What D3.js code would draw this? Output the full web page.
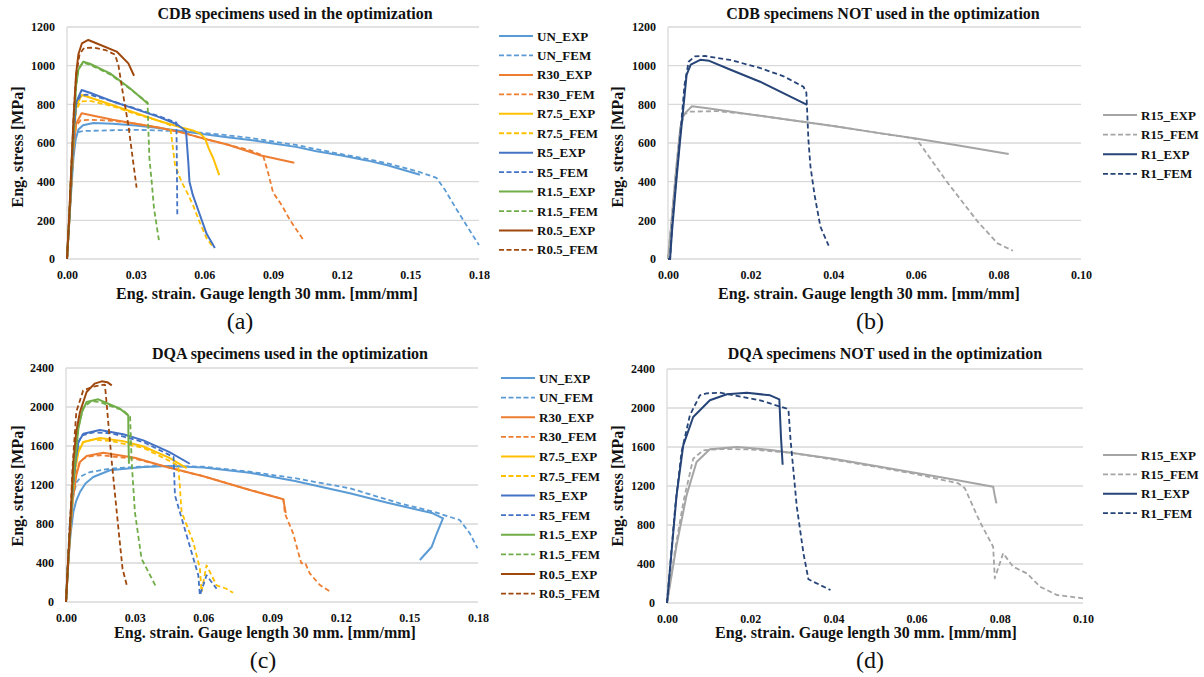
<!DOCTYPE html>
<html><head><meta charset="utf-8">
<script src="https://cdn.jsdelivr.net/npm/d3@7/dist/d3.min.js"></script>
<style>body{margin:0;background:#fff} svg{display:block}</style>
</head><body>
<svg id="chart" width="1204" height="677"></svg>
<script>
// ---------- DATA: [strain, stress] ----------
// (a) CDB used in optimization
const a_UN_EXP = [[0,0],[0.001,200],[0.002,380],[0.0028,520],[0.0038,620],[0.005,670],[0.007,692],[0.0115,703],[0.02,700],[0.03,690],[0.04,678],[0.05,662],[0.06,645],[0.07,630],[0.08,616],[0.09,598],[0.1,580],[0.109,557],[0.12,535],[0.131,510],[0.14,485],[0.1542,436]];
const a_UN_FEM = [[0,0],[0.001,200],[0.002,400],[0.0028,560],[0.0035,630],[0.0045,655],[0.007,662],[0.02,666],[0.03,668],[0.04,665],[0.05,660],[0.06,652],[0.07,640],[0.08,626],[0.09,608],[0.1,590],[0.109,568],[0.12,542],[0.131,518],[0.14,495],[0.154,450],[0.1614,420],[0.165,360],[0.1703,255],[0.175,165],[0.18,72]];
const a_R30_EXP = [[0,0],[0.001,200],[0.002,420],[0.003,600],[0.004,700],[0.0064,754],[0.01,745],[0.02,720],[0.03,700],[0.04,680],[0.05,655],[0.06,622],[0.07,592],[0.0843,537],[0.0993,498]];
const a_R30_FEM = [[0,0],[0.001,200],[0.002,420],[0.003,600],[0.004,690],[0.006,718],[0.01,720],[0.02,715],[0.03,700],[0.04,680],[0.05,655],[0.06,622],[0.07,592],[0.08,562],[0.0857,535],[0.088,440],[0.09,345],[0.094,275],[0.0975,200],[0.1033,98]];
const a_R7_5_EXP = [[0,0],[0.001,200],[0.002,420],[0.003,640],[0.004,790],[0.0064,848],[0.01,835],[0.02,795],[0.03,755],[0.04,715],[0.05,680],[0.055,665],[0.058,650],[0.0603,624],[0.062,570],[0.0639,521],[0.0665,434]];
const a_R7_5_FEM = [[0,0],[0.001,200],[0.002,420],[0.003,640],[0.004,770],[0.006,815],[0.01,818],[0.02,790],[0.03,750],[0.04,715],[0.045,693],[0.046,600],[0.0472,486],[0.05,400],[0.0523,348],[0.055,280],[0.058,190],[0.061,107],[0.064,60]];
const a_R5_EXP = [[0,0],[0.001,200],[0.002,430],[0.003,660],[0.004,810],[0.0064,874],[0.01,860],[0.02,815],[0.03,775],[0.04,735],[0.048,697],[0.052,662],[0.053,500],[0.0535,400],[0.055,330],[0.058,230],[0.061,130],[0.0646,57]];
const a_R5_FEM = [[0,0],[0.001,200],[0.002,440],[0.003,670],[0.004,800],[0.006,848],[0.01,850],[0.02,815],[0.03,778],[0.04,740],[0.0478,705],[0.048,500],[0.0482,219]];
const a_R1_5_EXP = [[0,0],[0.001,220],[0.002,480],[0.003,720],[0.004,900],[0.005,980],[0.0071,1021],[0.01,1010],[0.0188,960],[0.0275,883],[0.0355,802]];
const a_R1_5_FEM = [[0,0],[0.001,220],[0.002,480],[0.003,720],[0.004,900],[0.005,985],[0.007,1015],[0.01,1005],[0.0188,955],[0.0275,880],[0.0352,810],[0.0356,650],[0.036,520],[0.037,400],[0.038,263],[0.0403,86]];
const a_R0_5_EXP = [[0,0],[0.001,230],[0.002,500],[0.003,760],[0.004,960],[0.005,1060],[0.0065,1115],[0.0093,1133],[0.012,1120],[0.0217,1073],[0.0268,1012],[0.0293,948]];
const a_R0_5_FEM = [[0,0],[0.001,230],[0.002,500],[0.003,760],[0.004,950],[0.0055,1060],[0.0075,1092],[0.012,1093],[0.017,1080],[0.021,1057],[0.0225,1000],[0.0243,866],[0.0268,693],[0.0287,521],[0.0304,369]];

// (b) CDB NOT used
const b_R15_EXP = [[0,0],[0.001,230],[0.002,470],[0.003,680],[0.0037,745],[0.0058,790],[0.01,778],[0.02,748],[0.03,718],[0.04,688],[0.05,655],[0.06,623],[0.07,588],[0.0825,543]];
const b_R15_FEM = [[0,0],[0.001,230],[0.002,470],[0.003,680],[0.004,748],[0.005,762],[0.012,765],[0.02,748],[0.03,718],[0.04,688],[0.05,655],[0.06,622],[0.0612,590],[0.0675,400],[0.075,193],[0.0798,81],[0.0835,43]];
const b_R1_EXP = [[0,0],[0.0005,0],[0.001,150],[0.002,400],[0.0029,607],[0.0038,800],[0.0045,952],[0.0055,1005],[0.0078,1030],[0.01,1025],[0.015,980],[0.0223,917],[0.0337,797]];
const b_R1_FEM = [[0,0],[0.0005,0],[0.001,180],[0.002,420],[0.003,650],[0.004,900],[0.005,1020],[0.0065,1048],[0.009,1050],[0.015,1030],[0.022,990],[0.028,945],[0.0328,891],[0.0335,860],[0.034,615],[0.0345,477],[0.0355,330],[0.0369,167],[0.0389,69]];

// (c) DQA used in optimization
const c_UN_EXP = [[0,0],[0.001,410],[0.002,700],[0.0032,923],[0.0045,1040],[0.0061,1128],[0.0085,1215],[0.0119,1282],[0.0192,1351],[0.0338,1385],[0.045,1395],[0.06,1380],[0.0803,1326],[0.1,1240],[0.124,1115],[0.14,1020],[0.1603,910],[0.1647,858],[0.162,705],[0.1598,567],[0.1546,431]];
const c_UN_FEM = [[0,0],[0.0017,854],[0.003,1080],[0.0047,1231],[0.007,1295],[0.0105,1333],[0.0192,1367],[0.03,1385],[0.04,1395],[0.06,1388],[0.0803,1336],[0.1,1270],[0.124,1166],[0.1458,1012],[0.16,930],[0.172,841],[0.1764,705],[0.1798,551]];
const c_R30_EXP = [[0,0],[0.001,400],[0.002,760],[0.003,1050],[0.0045,1300],[0.0061,1436],[0.009,1497],[0.0163,1531],[0.03,1480],[0.044,1385],[0.06,1290],[0.0803,1149],[0.0949,1053],[0.0955,980],[0.096,913]];
const c_R30_FEM = [[0,0],[0.001,420],[0.002,780],[0.003,1080],[0.0045,1330],[0.006,1440],[0.009,1490],[0.015,1505],[0.03,1470],[0.044,1385],[0.06,1290],[0.0803,1150],[0.095,1055],[0.0956,910],[0.0992,705],[0.1028,397],[0.1045,400],[0.1065,294],[0.1109,174],[0.116,99]];
const c_R7_5_EXP = [[0,0],[0.001,420],[0.002,800],[0.003,1120],[0.0042,1380],[0.0054,1538],[0.0076,1641],[0.0148,1682],[0.025,1650],[0.0338,1595],[0.045,1480],[0.0527,1374]];
const c_R7_5_FEM = [[0,0],[0.001,430],[0.002,820],[0.003,1150],[0.0042,1420],[0.0055,1570],[0.0075,1640],[0.012,1665],[0.02,1650],[0.0338,1580],[0.045,1450],[0.049,1400],[0.0497,1200],[0.0505,923],[0.0556,615],[0.0585,342],[0.0592,103],[0.0614,376],[0.0658,171],[0.0701,136],[0.073,95]];
const c_R5_EXP = [[0,0],[0.001,430],[0.002,820],[0.003,1160],[0.0042,1450],[0.0054,1641],[0.0076,1726],[0.0148,1764],[0.025,1720],[0.0338,1658],[0.045,1540],[0.0541,1418]];
const c_R5_FEM = [[0,0],[0.001,440],[0.002,840],[0.003,1180],[0.0042,1460],[0.0055,1640],[0.007,1710],[0.012,1740],[0.02,1730],[0.0338,1640],[0.047,1487],[0.0476,1094],[0.0527,684],[0.0578,274],[0.0585,68],[0.0614,274],[0.0658,136]];
const c_R1_5_EXP = [[0,0],[0.001,440],[0.002,850],[0.003,1200],[0.0039,1436],[0.0054,1777],[0.007,1950],[0.009,2051],[0.0141,2079],[0.0236,1982],[0.0272,1914],[0.0273,1650],[0.0275,1418]];
const c_R1_5_FEM = [[0,0],[0.001,450],[0.002,860],[0.003,1220],[0.004,1500],[0.0055,1800],[0.0075,1990],[0.011,2060],[0.015,2050],[0.02,2005],[0.025,1965],[0.028,1900],[0.0287,1436],[0.0301,923],[0.033,444],[0.0396,144]];
const c_R0_5_EXP = [[0,0],[0.001,460],[0.002,880],[0.0032,1436],[0.0045,1750],[0.0061,1949],[0.009,2154],[0.0125,2240],[0.0156,2263],[0.018,2255],[0.02,2222]];
const c_R0_5_FEM = [[0,0],[0.001,470],[0.002,920],[0.003,1436],[0.0045,1950],[0.0075,2170],[0.012,2210],[0.017,2230],[0.0175,2100],[0.019,1700],[0.02,1436],[0.0229,752],[0.0247,342],[0.0265,177]];

// (d) DQA NOT used
const d_R15_EXP = [[0,0],[0.0023,592],[0.0047,1104],[0.0071,1446],[0.0103,1576],[0.0168,1600],[0.025,1570],[0.04,1480],[0.0512,1398],[0.0672,1279],[0.0784,1193],[0.0788,1100],[0.0792,1022]];
const d_R15_FEM = [[0,0],[0.002,560],[0.004,1050],[0.0063,1480],[0.0087,1566],[0.0127,1580],[0.02,1575],[0.03,1540],[0.04,1470],[0.0512,1390],[0.06,1320],[0.07,1228],[0.0716,1176],[0.0752,834],[0.0784,577],[0.0788,253],[0.0808,510],[0.0832,372],[0.0865,304],[0.0897,167],[0.0937,82],[0.1,48]];
const d_R1_EXP = [[0,0],[0.0023,1104],[0.0039,1617],[0.0063,1908],[0.0103,2079],[0.0144,2141],[0.0192,2157],[0.0248,2130],[0.027,2089],[0.0274,1700],[0.0278,1418]];
const d_R1_FEM = [[0,0],[0.002,1000],[0.0035,1550],[0.0055,1925],[0.0079,2130],[0.0095,2150],[0.0127,2157],[0.0224,2079],[0.0288,1993],[0.0292,1980],[0.0297,1672],[0.0312,988],[0.0328,510],[0.034,243],[0.0393,133]];

// ticks / labels
const xTicksUsed = [0, 0.03, 0.06, 0.09, 0.12, 0.15, 0.18];
const xTicksNot = [0, 0.02, 0.04, 0.06, 0.08, 0.10];
const yTicksCDB = [0, 200, 400, 600, 800, 1000, 1200];
const yTicksDQA = [0, 400, 800, 1200, 1600, 2000, 2400];
const namesUsed = ["UN_EXP","UN_FEM","R30_EXP","R30_FEM","R7.5_EXP","R7.5_FEM","R5_EXP","R5_FEM","R1.5_EXP","R1.5_FEM","R0.5_EXP","R0.5_FEM"];
const namesNot = ["R15_EXP","R15_FEM","R1_EXP","R1_FEM"];
const colorsUsed = ["#5B9BD5","#5B9BD5","#ED7D31","#ED7D31","#FFC000","#FFC000","#4472C4","#4472C4","#70AD47","#70AD47","#9E480E","#9E480E"];
const colorsNot = ["#A5A5A5","#A5A5A5","#264478","#264478"];
const titles = ["CDB specimens used in the optimization","CDB specimens NOT used in the optimization","DQA specimens used in the optimization","DQA specimens NOT used in the optimization"];
const xTitle = "Eng. strain. Gauge length 30 mm. [mm/mm]";
const yTitle = "Eng. stress [MPa]";
const panelLabels = ["(a)","(b)","(c)","(d)"];

// ---------- DRAW ----------
const svg = d3.select("#chart");
const FONT = '"Liberation Serif"';
const txt = (sel, size, bold) => sel.style("font-family", FONT).style("font-size", size + "px")
  .style("font-weight", bold ? "bold" : "normal").attr("fill", "#111");

function panel(cfg) {
  const x = d3.scaleLinear().domain([0, cfg.xmax]).range([cfg.l, cfg.r]);
  const y = d3.scaleLinear().domain([0, cfg.ymax]).range([cfg.b, cfg.t]);
  const g = svg.append("g");
  g.selectAll("line.grid").data(cfg.yticks).join("line")
    .attr("x1", cfg.l).attr("x2", cfg.r)
    .attr("y1", d => y(d)).attr("y2", d => y(d))
    .attr("stroke", "#d9d9d9").attr("stroke-width", 1.3);
  g.append("line").attr("x1", cfg.l).attr("x2", cfg.l).attr("y1", cfg.t).attr("y2", cfg.b)
    .attr("stroke", "#d9d9d9").attr("stroke-width", 1.3);

  const ya = g.append("g").attr("transform", `translate(${cfg.l},0)`)
    .call(d3.axisLeft(y).tickValues(cfg.yticks).tickSize(0).tickPadding(12).tickFormat(d3.format("d")));
  const xa = g.append("g").attr("transform", `translate(0,${cfg.b})`)
    .call(d3.axisBottom(x).tickValues(cfg.xticks).tickSize(0).tickPadding(11).tickFormat(d3.format(".2f")));
  [ya, xa].forEach(a => {
    a.select(".domain").remove();
    txt(a.selectAll("text"), 12, true);
  });

  const line = d3.line().x(d => x(d[0])).y(d => y(d[1]));
  cfg.series.forEach((s, i) => {
    const dashed = cfg.names[i].endsWith("FEM");
    g.append("path").datum(s).attr("d", line)
      .attr("fill", "none").attr("stroke", cfg.colors[i])
      .attr("stroke-width", dashed ? 1.8 : 2)
      .attr("stroke-dasharray", dashed ? "5,3" : null)
      .attr("stroke-linejoin", "round");
  });

  txt(g.append("text").attr("x", cfg.tx).attr("y", cfg.ty).attr("text-anchor", "middle").text(cfg.title), 16, true);
  txt(g.append("text").attr("transform", `translate(${cfg.yx},${cfg.yy}) rotate(-90)`).attr("text-anchor", "middle").text(yTitle), 16, true);
  txt(g.append("text").attr("x", cfg.xx).attr("y", cfg.xy).attr("text-anchor", "middle").text(xTitle), 16, true);
  txt(g.append("text").attr("x", cfg.px).attr("y", cfg.py).attr("text-anchor", "middle").text(cfg.label), 24, false);

  const lg = g.append("g");
  cfg.names.forEach((n, i) => {
    const yy = cfg.ly + i * cfg.lstep;
    const dashed = n.endsWith("FEM");
    lg.append("line").attr("x1", cfg.lx).attr("x2", cfg.lx + 34).attr("y1", yy).attr("y2", yy)
      .attr("stroke", cfg.colors[i]).attr("stroke-width", dashed ? 1.8 : 2)
      .attr("stroke-dasharray", dashed ? "5,2.5" : null);
    txt(lg.append("text").attr("x", cfg.lx + 38).attr("y", yy + 4.5).text(n), 13, true);
  });
}

panel({l:67, r:479, t:27, b:259, xmax:0.18, ymax:1200, xticks:xTicksUsed, yticks:yTicksCDB,
  series:[a_UN_EXP,a_UN_FEM,a_R30_EXP,a_R30_FEM,a_R7_5_EXP,a_R7_5_FEM,a_R5_EXP,a_R5_FEM,a_R1_5_EXP,a_R1_5_FEM,a_R0_5_EXP,a_R0_5_FEM],
  names:namesUsed, colors:colorsUsed, title:titles[0], tx:295, ty:19, yx:23, yy:147, xx:267, xy:299,
  label:panelLabels[0], px:240, py:329, lx:499, ly:36, lstep:19.45});
panel({l:668, r:1081, t:27, b:259, xmax:0.10, ymax:1200, xticks:xTicksNot, yticks:yTicksCDB,
  series:[b_R15_EXP,b_R15_FEM,b_R1_EXP,b_R1_FEM],
  names:namesNot, colors:colorsNot, title:titles[1], tx:883, ty:19, yx:623, yy:147, xx:869, xy:299,
  label:panelLabels[1], px:870, py:329, lx:1103, ly:115, lstep:19.6});
panel({l:66, r:478, t:368, b:602, xmax:0.18, ymax:2400, xticks:xTicksUsed, yticks:yTicksDQA,
  series:[c_UN_EXP,c_UN_FEM,c_R30_EXP,c_R30_FEM,c_R7_5_EXP,c_R7_5_FEM,c_R5_EXP,c_R5_FEM,c_R1_5_EXP,c_R1_5_FEM,c_R0_5_EXP,c_R0_5_FEM],
  names:namesUsed, colors:colorsUsed, title:titles[2], tx:290, ty:359, yx:23, yy:486, xx:265, xy:638,
  label:panelLabels[2], px:263, py:668, lx:501, ly:378, lstep:19.6});
panel({l:667, r:1083, t:369, b:603, xmax:0.10, ymax:2400, xticks:xTicksNot, yticks:yTicksDQA,
  series:[d_R15_EXP,d_R15_FEM,d_R1_EXP,d_R1_FEM],
  names:namesNot, colors:colorsNot, title:titles[3], tx:885, ty:359, yx:623, yy:486, xx:866, xy:638,
  label:panelLabels[3], px:870, py:668, lx:1103, ly:455, lstep:19.4});
</script>
</body></html>
